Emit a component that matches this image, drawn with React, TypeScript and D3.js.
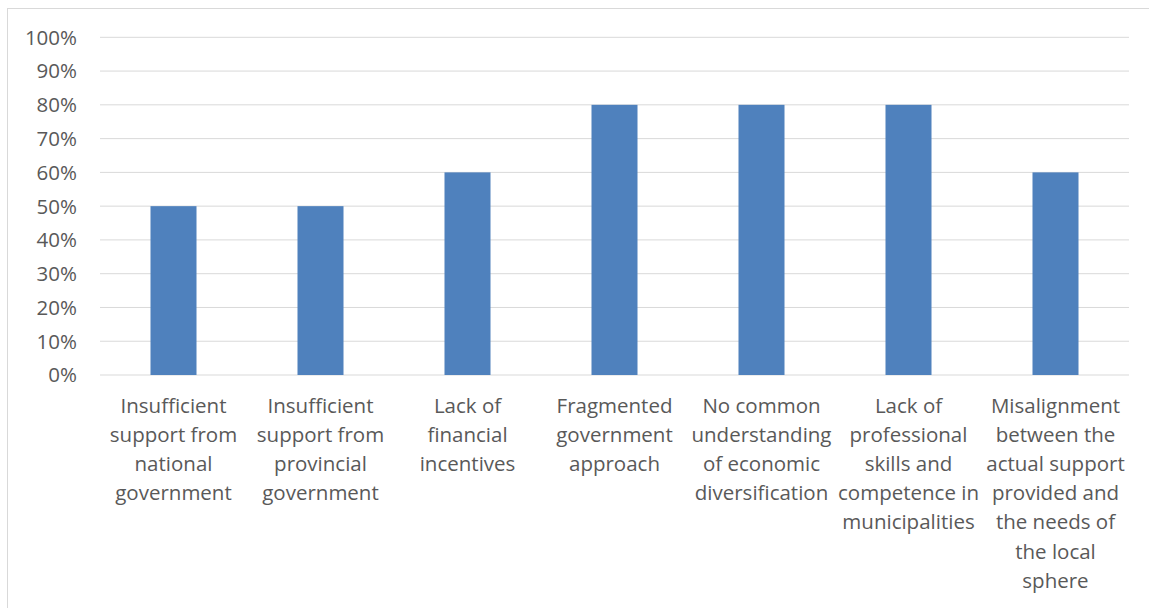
import React from "react";
import * as d3 from "d3";

const categories: string[][] = [
  ["Insufficient", "support from", "national", "government"],
  ["Insufficient", "support from", "provincial", "government"],
  ["Lack of", "financial", "incentives"],
  ["Fragmented", "government", "approach"],
  ["No common", "understanding", "of economic", "diversification"],
  ["Lack of", "professional", "skills and", "competence in", "municipalities"],
  ["Misalignment", "between the", "actual support", "provided and", "the needs of", "the local", "sphere"],
];
const values = [0.5, 0.5, 0.6, 0.8, 0.8, 0.8, 0.6];
const yTicks = [0, 0.1, 0.2, 0.3, 0.4, 0.5, 0.6, 0.7, 0.8, 0.9, 1.0];

export default function App() {
  const W = 1149, H = 608;
  const left = 100, right = 1129, top = 37.3, bottom = 375;
  const x = d3.scaleBand<number>().domain(categories.map((_, i) => i)).range([left, right]).paddingInner(0.687).paddingOuter(0.3435);
  const y = d3.scaleLinear().domain([0, 1]).range([bottom, top]);
  const fmt = d3.format(".0%");
  const font = "Open Sans, sans-serif";
  return (
    <svg width={W} height={H} style={{ position: "absolute", left: 0, top: 0 }}>
      <rect x={0} y={0} width={W} height={H} fill="#fff" />
      <rect x={7.5} y={8.5} width={1150} height={620} fill="none" stroke="#d9d9d9" strokeWidth={1} />
      {yTicks.map((t) => (
        <g key={t}>
          <line x1={left} x2={right} y1={y(t)} y2={y(t)} stroke="#d9d9d9" strokeWidth={1} />
          <text x={77} y={y(t)} dy="0.36em" textAnchor="end" fontFamily={font} fontSize={20.5} fill="#595959">{fmt(t)}</text>
        </g>
      ))}
      {values.map((v, i) => (
        <rect key={i} x={x(i)} y={y(v)} width={x.bandwidth()} height={y(0) - y(v)} fill="#4F81BD" />
      ))}
      {categories.map((lines, i) => (
        <text key={i} textAnchor="middle" fontFamily={font} fontSize={20.5} fill="#595959">
          {lines.map((l, j) => (
            <tspan key={j} x={(x(i) as number) + x.bandwidth() / 2} y={413 + j * 29.1}>{l}</tspan>
          ))}
        </text>
      ))}
    </svg>
  );
}
